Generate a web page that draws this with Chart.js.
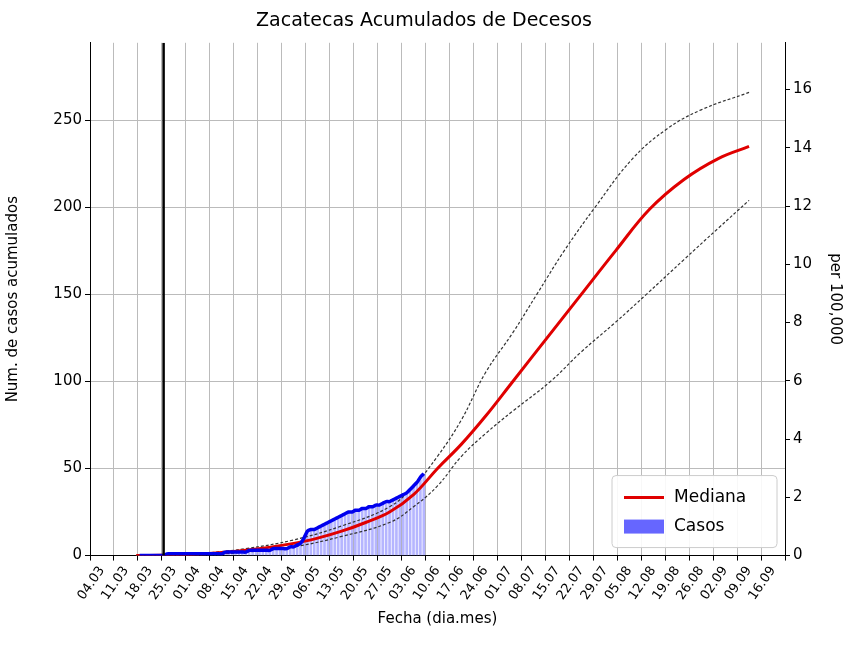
<!DOCTYPE html>
<html><head><meta charset="utf-8">
<script src="https://cdn.jsdelivr.net/npm/chart.js@4"></script>
<style>body{margin:0;background:#fff}</style>
</head><body><canvas id="c" width="848" height="648"></canvas>
<script>
const tickLabels=["04.03","11.03","18.03","25.03","01.04","08.04","15.04","22.04","29.04","06.05","13.05","20.05","27.05","03.06","10.06","17.06","24.06","01.07","08.07","15.07","22.07","29.07","05.08","12.08","19.08","26.08","02.09","09.09","16.09"];
const medDays=[10,20,30,42,56,63,70,77,84,91,98,105,112,120,130,140,150,160,170,180,189];
const medVals=[0,0.3,1,3,7,10,14,19,25,35,50,64,80,100,125,150,175,199,216,228,235];
const upDays=[10,30,42,56,70,84,91,98,105,112,120,127,135,144,155,165,175,189];
const upVals=[0,1.5,4,9,17,28,40,57,78,105,128,150,175,200,228,245,256,266];
const loDays=[10,30,42,56,70,84,91,98,105,112,120,131,140,150,159,170,180,189];
const loVals=[0,0.5,2,5,11,19,28,40,57,70,83,100,117,134,150,170,188,204];
const caseStart=10;
const caseVals=[0,0,0,0,0,0,0,0,1,1,1,1,1,1,1,1,1,1,1,1,1,1,1,1,1,2,2,2,2,2,2,2,3,3,3,3,3,3,3,4,4,4,4,4,5,5,6,7,10,14,15,15,16,17,18,19,20,21,22,23,24,25,25,26,26,27,27,28,28,29,29,30,31,31,32,33,34,35,36,38,40,42,45,47];
const lockdownDay=18;
const yMax=294.5, perFactor=16.73;
const pts=(d,v)=>d.map((x,i)=>({x,y:v[i]}));
const cases=caseVals.map((v,i)=>({x:caseStart+i+1,y:v}));
const legendPlugin={id:'lg',afterDraw(ch){const a=ch.chartArea,c=ch.ctx;const w=165,h=72,x=a.right-w-8,y=a.bottom-h-8;
c.save();c.fillStyle='rgba(255,255,255,0.9)';c.strokeStyle='#ccc';c.lineWidth=1;c.beginPath();c.roundRect(x,y,w,h,4);c.fill();c.stroke();
c.strokeStyle='#e00000';c.lineWidth=3;c.beginPath();c.moveTo(x+12,y+22);c.lineTo(x+52,y+22);c.stroke();
c.fillStyle='#6666ff';c.fillRect(x+12,y+44,40,14);
c.fillStyle='#000';c.font='17px "DejaVu Sans"';c.textBaseline='middle';c.fillText('Mediana',x+62,y+22);c.fillText('Casos',x+62,y+51);c.restore();}};
new Chart(document.getElementById('c'),{
data:{datasets:[
{type:'bar',data:cases,backgroundColor:'rgba(120,120,255,0.55)',barThickness:2,yAxisID:'y',order:5},
{type:'line',data:pts(upDays,upVals),borderColor:'#333',borderDash:[3,2],borderWidth:1.2,pointRadius:0,tension:0.4,yAxisID:'y',order:3},
{type:'line',data:pts(loDays,loVals),borderColor:'#333',borderDash:[3,2],borderWidth:1.2,pointRadius:0,tension:0.4,yAxisID:'y',order:3},
{type:'line',data:pts(medDays,medVals),borderColor:'#e00000',borderWidth:3,pointRadius:0,tension:0.4,yAxisID:'y',order:2},
{type:'line',data:cases,borderColor:'#0000ee',borderWidth:3.5,pointRadius:0,tension:0.2,yAxisID:'y',order:1},
{type:'line',data:[{x:lockdownDay,y:0},{x:lockdownDay,y:yMax}],borderColor:'#000',borderWidth:2.5,pointRadius:0,yAxisID:'y',order:0}
]},
options:{responsive:false,animation:false,devicePixelRatio:1,
layout:{padding:{top:6,bottom:16}},
plugins:{legend:{display:false},tooltip:{enabled:false},
title:{display:true,text:'Zacatecas Acumulados de Decesos',color:'#000',font:{size:19,family:'DejaVu Sans',weight:'normal'},padding:{top:4,bottom:10}}},
scales:{
x:{type:'linear',min:0,max:196,ticks:{stepSize:7,autoSkip:false,maxRotation:55,minRotation:55,color:'#000',font:{size:13,family:'DejaVu Sans'},callback:v=>tickLabels[Math.round(v/7)]},
 afterBuildTicks:s=>{s.ticks=tickLabels.map((_,i)=>({value:i*7}));},
 grid:{color:'#bbb',tickLength:5,tickColor:'#000'},border:{color:'#000'},
 title:{display:true,text:'Fecha (dia.mes)',color:'#000',font:{size:15,family:'DejaVu Sans'}}},
y:{position:'left',min:0,max:yMax,afterBuildTicks:s=>{s.ticks=[0,50,100,150,200,250].map(v=>({value:v}));},
 ticks:{color:'#000',font:{size:15,family:'DejaVu Sans'}},grid:{color:'#bbb',tickColor:'#000',tickLength:5},border:{color:'#000'},
 afterFit:s=>{s.width=90;},
 title:{display:true,text:'Num. de casos acumulados',color:'#000',font:{size:15,family:'DejaVu Sans'}}},
y2:{position:'right',min:0,max:yMax/perFactor,afterBuildTicks:s=>{s.ticks=[0,2,4,6,8,10,12,14,16].map(v=>({value:v}));},
 ticks:{color:'#000',font:{size:15,family:'DejaVu Sans'},callback:v=>v.toLocaleString('en-US')},grid:{drawOnChartArea:false,tickColor:'#000',tickLength:5},border:{color:'#000'},
 afterFit:s=>{s.width=63;},
 title:{display:true,text:'per 100,000',color:'#000',font:{size:15,family:'DejaVu Sans'}}}
}},
plugins:[legendPlugin]});
</script></body></html>
